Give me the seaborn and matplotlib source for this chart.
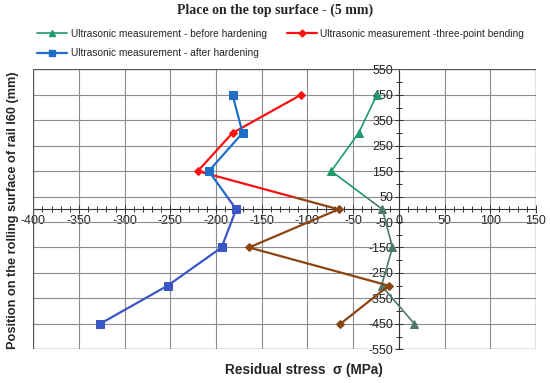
import matplotlib

matplotlib.use("Agg")
import numpy as np
import pandas as pd
import seaborn as sns
from matplotlib import pyplot as plt
from matplotlib.lines import Line2D
from matplotlib.patches import Rectangle
from matplotlib.ticker import MultipleLocator

# position on the rolling surface (mm)
position = [450, 300, 150, 0, -150, -300, -450]
# residual stress (MPa)
before_hardening = [-24, -44, -74, -18, -7, -19, 17]
three_point_bending = [-107, -182, -220, -66, -164, -11, -64]
after_hardening = [-182, -171, -208, -178, -194, -253, -327]

labels = [
    "Ultrasonic measurement - before hardening",
    "Ultrasonic measurement -three-point bending",
    "Ultrasonic measurement - after hardening",
]

sns.set_theme(style="white")
plt.rcParams["font.family"] = ["Liberation Sans", "DejaVu Sans"]
plt.rcParams["axes.unicode_minus"] = False

fig = plt.figure(figsize=(5.5, 3.83), dpi=100)
ax = fig.add_axes([0.0605, 0.088, 0.914, 0.731])

# (values, upper colour, lower colour, marker, marker size, line width)
series = [
    (before_hardening, "#1f9a6c", "#4d7a68", "^", 5.5, 1.2),
    (three_point_bending, "#ff1010", "#8b4513", "D", 3.8, 1.6),
    (after_hardening, "#1f6fc8", "#3a55c4", "s", 5.5, 1.6),
]

split = 50  # above this the lines look brighter in the source picture
upper_clip = Rectangle((-400, split), 550, 550 - split + 20, transform=ax.transData)
lower_clip = Rectangle((-400, -570), 550, split + 570, transform=ax.transData)

for (values, c_up, c_low, marker, ms, lw) in series:
    df = pd.DataFrame({"stress": values, "pos": position})
    for color, clip in ((c_up, upper_clip), (c_low, lower_clip)):
        sns.lineplot(
            data=df, x="stress", y="pos", sort=False, ax=ax, color=color,
            marker=marker, markersize=ms, markeredgecolor=color, linewidth=lw,
            clip_on=True, zorder=3,
        )
        ax.lines[-1].set_clip_path(clip)

ax.set_xlim(-400, 150)
ax.set_ylim(-550, 550)
ax.xaxis.set_major_locator(MultipleLocator(50))
ax.xaxis.set_minor_locator(MultipleLocator(10))
ax.set_yticks(np.arange(-550, 551, 100))
ax.set_yticks(np.arange(-500, 501, 100), minor=True)
ax.grid(True, which="major", color="#8c8c8c", linewidth=0.8)

for side in ("top", "right"):
    ax.spines[side].set_visible(False)
ax.spines["left"].set_position(("data", 0))
ax.spines["bottom"].set_position(("data", 0))
for side in ("left", "bottom"):
    ax.spines[side].set_color("#333333")
    ax.spines[side].set_linewidth(0.8)
ax.add_patch(Rectangle((0, 0), 1, 1, transform=ax.transAxes, fill=False,
                       edgecolor="#555555", linewidth=0.9, zorder=4))

ax.tick_params(axis="both", which="both", direction="inout", color="#333333",
               width=0.7, labelsize=9, pad=1)
ax.tick_params(axis="both", which="major", length=6)
ax.tick_params(axis="both", which="minor", length=5)
ax.xaxis.set_ticks_position("bottom")
ax.yaxis.set_ticks_position("left")

ax.set_xlabel("")
ax.set_ylabel("")
fig.text(0.553, 0.034, "Residual stress  σ (MPa)", ha="center", va="center",
         fontsize=9.8, fontweight="bold")
fig.text(0.024, 0.452, "Position on the rolling surface of rail I60 (mm)",
         ha="center", va="center", rotation=90, fontsize=9.2, fontweight="bold")
fig.text(0.5, 0.972, "Place on the top surface - (5 mm)", ha="center",
         va="center", fontsize=10, fontweight="bold",
         family=["Liberation Serif", "DejaVu Serif"])

handles = [
    Line2D([], [], color=series[0][1], marker="^", markersize=5, linewidth=1.2),
    Line2D([], [], color=series[2][1], marker="s", markersize=5, linewidth=1.6),
    Line2D([], [], color=series[1][1], marker="D", markersize=3.5, linewidth=1.6),
]
fig.legend(handles, [labels[0], labels[2], labels[1]], ncol=2, frameon=False,
           fontsize=7.3, loc="upper left", bbox_to_anchor=(0.06, 0.935),
           handlelength=3, handletextpad=0.3, columnspacing=2.0,
           labelspacing=0.9, borderaxespad=0)

fig.savefig("out.png", dpi=100)
